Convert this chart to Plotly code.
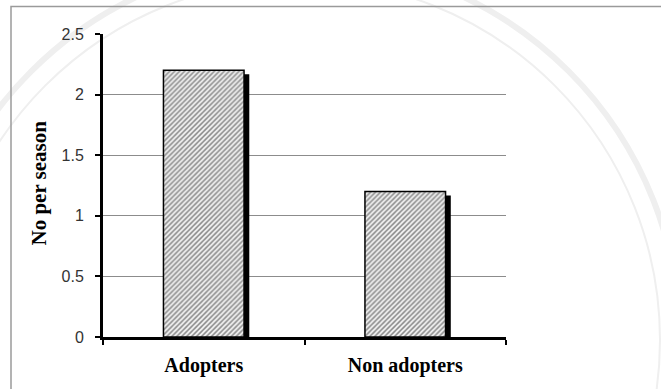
import plotly.graph_objects as go

# Average number per season by group
groups = ["Adopters", "Non adopters"]
per_season = [2.2, 1.2]
y_ticks = [0, 0.5, 1, 1.5, 2, 2.5]
y_tick_text = ["0", "0.5", "1", "1.5", "2", "2.5"]

W, H = 661, 389
L, R, T, B = 103, 155, 34, 47
plot_w, plot_h = W - L - R, H - T - B

bar_w = 0.4
shadow_dx = 0.026   # category units
shadow_dy = 0.033   # data units

fig = go.Figure()

# drop shadow behind each bar
fig.add_trace(go.Bar(
    x=groups,
    y=[v - shadow_dy for v in per_season],
    width=bar_w,
    offset=-bar_w / 2 + shadow_dx,
    marker=dict(color="black", line=dict(width=0)),
    hoverinfo="skip",
    showlegend=False,
))

# hatched bars
fig.add_trace(go.Bar(
    x=groups,
    y=per_season,
    width=bar_w,
    offset=-bar_w / 2,
    marker=dict(
        color="#e4e4e4",
        line=dict(color="black", width=1.5),
        pattern=dict(shape="/", fgcolor="#2a2a2a", bgcolor="#f0f0f0",
                     size=3.5, solidity=0.45),
    ),
    showlegend=False,
))


def px_x(px):
    return (px - L) / plot_w


def px_y(py):
    return (H - B - py) / plot_h


shapes = []
# faint circular watermark rings
cx, cy = px_x(300), px_y(345)
for r, w in [(380, 6), (360, 2)]:
    shapes.append(dict(
        type="circle", xref="paper", yref="paper",
        xsizemode="pixel", ysizemode="pixel",
        xanchor=cx, yanchor=cy,
        x0=-r, x1=r, y0=-r, y1=r,
        line=dict(color="#efefef", width=w),
        layer="below",
    ))
# chart area frame
shapes.append(dict(
    type="rect", xref="paper", yref="paper",
    x0=px_x(11), x1=px_x(700), y0=px_y(6), y1=px_y(420),
    line=dict(color="#9a9a9a", width=1.5),
    layer="below",
))

fig.update_layout(
    width=W, height=H,
    margin=dict(l=L, r=R, t=T, b=B),
    paper_bgcolor="white",
    plot_bgcolor="rgba(0,0,0,0)",
    barmode="overlay",
    shapes=shapes,
    xaxis=dict(
        type="category",
        showline=True, linecolor="black", linewidth=3,
        ticks="outside", tickson="boundaries", ticklen=5, tickwidth=2,
        tickcolor="black",
        tickfont=dict(family="Liberation Serif", size=20, color="black",
                      weight="bold"),
        ticklabelstandoff=8,
        showgrid=False,
        range=[-0.5, 1.5],
    ),
    yaxis=dict(
        range=[0, 2.5],
        tickvals=y_ticks, ticktext=y_tick_text,
        showline=True, linecolor="black", linewidth=3,
        ticks="outside", ticklen=5, tickwidth=2, tickcolor="black",
        tickfont=dict(family="Liberation Sans", size=16, color="#333333"),
        ticklabelstandoff=8,
        showgrid=True, gridcolor="#8c8c8c", gridwidth=1,
        zeroline=False,
    ),
    annotations=[dict(
        text="<b>No per season</b>",
        xref="paper", yref="paper",
        x=px_x(39), y=px_y(186),
        textangle=-90, showarrow=False,
        font=dict(family="Liberation Serif", size=21, color="black"),
        xanchor="center", yanchor="middle",
    )],
)

fig.write_html("out.html")
